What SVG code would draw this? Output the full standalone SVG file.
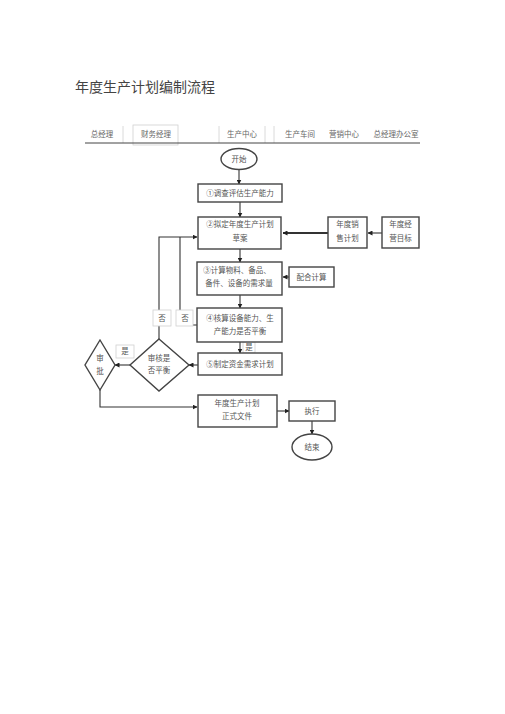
<svg xmlns="http://www.w3.org/2000/svg" width="505" height="714" viewBox="0 0 505 714">
<defs>
<marker id="ah" viewBox="0 0 10 10" refX="9" refY="5" markerWidth="5" markerHeight="5" orient="auto" markerUnits="userSpaceOnUse"><path d="M0,0 L10,5 L0,10 z" fill="#222"/></marker>
</defs>
<style>
text{font-family:"Liberation Serif","Noto Sans CJK SC",serif;fill:#555;font-size:7.5px;text-anchor:middle}
.title{font-size:14px;text-anchor:start;fill:#444}
.hdr{font-size:7.5px;fill:#666}
.box{fill:#fff;stroke:#444;stroke-width:1.4}
.lbl{fill:#fff;stroke:#d0d0d0;stroke-width:0.8}
.sep{stroke:#d0d0d0;stroke-width:0.8;fill:none}
.c{fill:none;stroke:#333;stroke-width:1.1}
.thick{fill:none;stroke:#333;stroke-width:2}
</style>
<rect width="505" height="714" fill="#fff"/>
<text class="title" x="75" y="92">年度生产计划编制流程</text>

<g id="header">
<line class="sep" x1="123" y1="126" x2="123" y2="143"/>
<rect class="sep" x="133" y="125" width="45" height="20"/>
<line class="sep" x1="219" y1="126" x2="219" y2="143"/>
<line class="sep" x1="265" y1="126" x2="265" y2="143"/>
<line class="sep" x1="274" y1="126" x2="274" y2="143"/>
<text class="hdr" x="102" y="137">总经理</text>
<text class="hdr" x="156" y="137">财务经理</text>
<text class="hdr" x="242" y="137">生产中心</text>
<text class="hdr" x="300" y="137">生产车间</text>
<text class="hdr" x="344" y="137">营销中心</text>
<text class="hdr" x="396" y="137">总经理办公室</text>
<line x1="85" y1="143" x2="420" y2="143" stroke="#444" stroke-width="1"/>
</g>

<g id="connectors">
<line class="c" x1="239" y1="169" x2="239" y2="184" marker-end="url(#ah)"/>
<line class="c" x1="240" y1="202" x2="240" y2="217" marker-end="url(#ah)"/>
<line class="c" x1="240" y1="249" x2="240" y2="262" marker-end="url(#ah)"/>
<line class="c" x1="240" y1="295" x2="240" y2="308" marker-end="url(#ah)"/>
<line class="c" x1="240" y1="342" x2="240" y2="353" marker-end="url(#ah)"/>
<line class="thick" x1="328" y1="233" x2="283" y2="233" marker-end="url(#ah)"/>
<line class="c" x1="382" y1="233" x2="368" y2="233" marker-end="url(#ah)"/>
<line class="c" x1="289" y1="277" x2="283" y2="277" marker-end="url(#ah)"/>
<polyline class="c" points="159,339 159,237 197,237" marker-end="url(#ah)"/>
<polyline class="c" points="197,325 180,325 180,237"/>
<line class="c" x1="198" y1="365" x2="189" y2="365" marker-end="url(#ah)"/>
<line class="c" x1="130" y1="365" x2="115" y2="365" marker-end="url(#ah)"/>
<polyline class="c" points="100,390 100,407 197,407" marker-end="url(#ah)"/>
<line class="c" x1="277" y1="411" x2="289" y2="411" marker-end="url(#ah)"/>
<line class="c" x1="312" y1="421" x2="312" y2="434" marker-end="url(#ah)"/>
<rect class="lbl" x="153" y="310" width="18" height="16"/>
<text x="162" y="321">否</text>
<rect class="lbl" x="176" y="310" width="17" height="16"/>
<text x="185" y="321">否</text>
<rect class="lbl" x="243" y="342" width="12" height="11"/>
<text x="249" y="350">是</text>
<rect class="lbl" x="116" y="345" width="18" height="13"/>
<text x="125" y="354">是</text>
</g>

<g id="start">
<ellipse class="box" cx="239" cy="159" rx="18" ry="10.5"/>
<text x="239" y="162">开始</text>
</g>
<g id="step1">
<rect class="box" x="198" y="184" width="84" height="18"/>
<text x="240" y="196">①调查评估生产能力</text>
</g>
<g id="step2">
<rect class="box" x="198" y="217" width="83" height="32"/>
<text x="240" y="227">②拟定年度生产计划</text>
<text x="240" y="241">草案</text>
</g>
<g id="sales">
<rect class="box" x="328" y="217" width="39" height="31"/>
<text x="347.5" y="227">年度销</text>
<text x="347.5" y="241">售计划</text>
</g>
<g id="target">
<rect class="box" x="382" y="217" width="37" height="31"/>
<text x="400.5" y="227">年度经</text>
<text x="400.5" y="241">营目标</text>
</g>
<g id="step3">
<rect class="box" x="197" y="262" width="85" height="33"/>
<text x="237" y="273">③计算物料、备品、</text>
<text x="239" y="286">备件、设备的需求量</text>
</g>
<g id="assist">
<rect class="box" x="289" y="267" width="45" height="20"/>
<text x="311.5" y="280">配合计算</text>
</g>
<g id="step4">
<rect class="box" x="197" y="308" width="85" height="34"/>
<text x="240" y="321">④核算设备能力、生</text>
<text x="240" y="334">产能力是否平衡</text>
</g>
<g id="step5">
<rect class="box" x="198" y="353" width="84" height="22"/>
<text x="240" y="367">⑤制定资金需求计划</text>
</g>
<g id="review">
<polygon class="box" points="159,339 189,365 159,391 130,365"/>
<text x="159" y="361">审核是</text>
<text x="159" y="373">否平衡</text>
</g>
<g id="approve">
<polygon class="box" points="100,340 115,365 100,390 85,365"/>
<text x="100" y="361">审</text>
<text x="100" y="374">批</text>
</g>
<g id="formal">
<rect class="box" x="198" y="395" width="79" height="32"/>
<text x="237" y="406">年度生产计划</text>
<text x="237" y="419">正式文件</text>
</g>
<g id="execute">
<rect class="box" x="289" y="401" width="46" height="20"/>
<text x="312" y="414">执行</text>
</g>
<g id="end">
<ellipse class="box" cx="312" cy="447" rx="20" ry="13"/>
<text x="312" y="450">结束</text>
</g>
</svg>
